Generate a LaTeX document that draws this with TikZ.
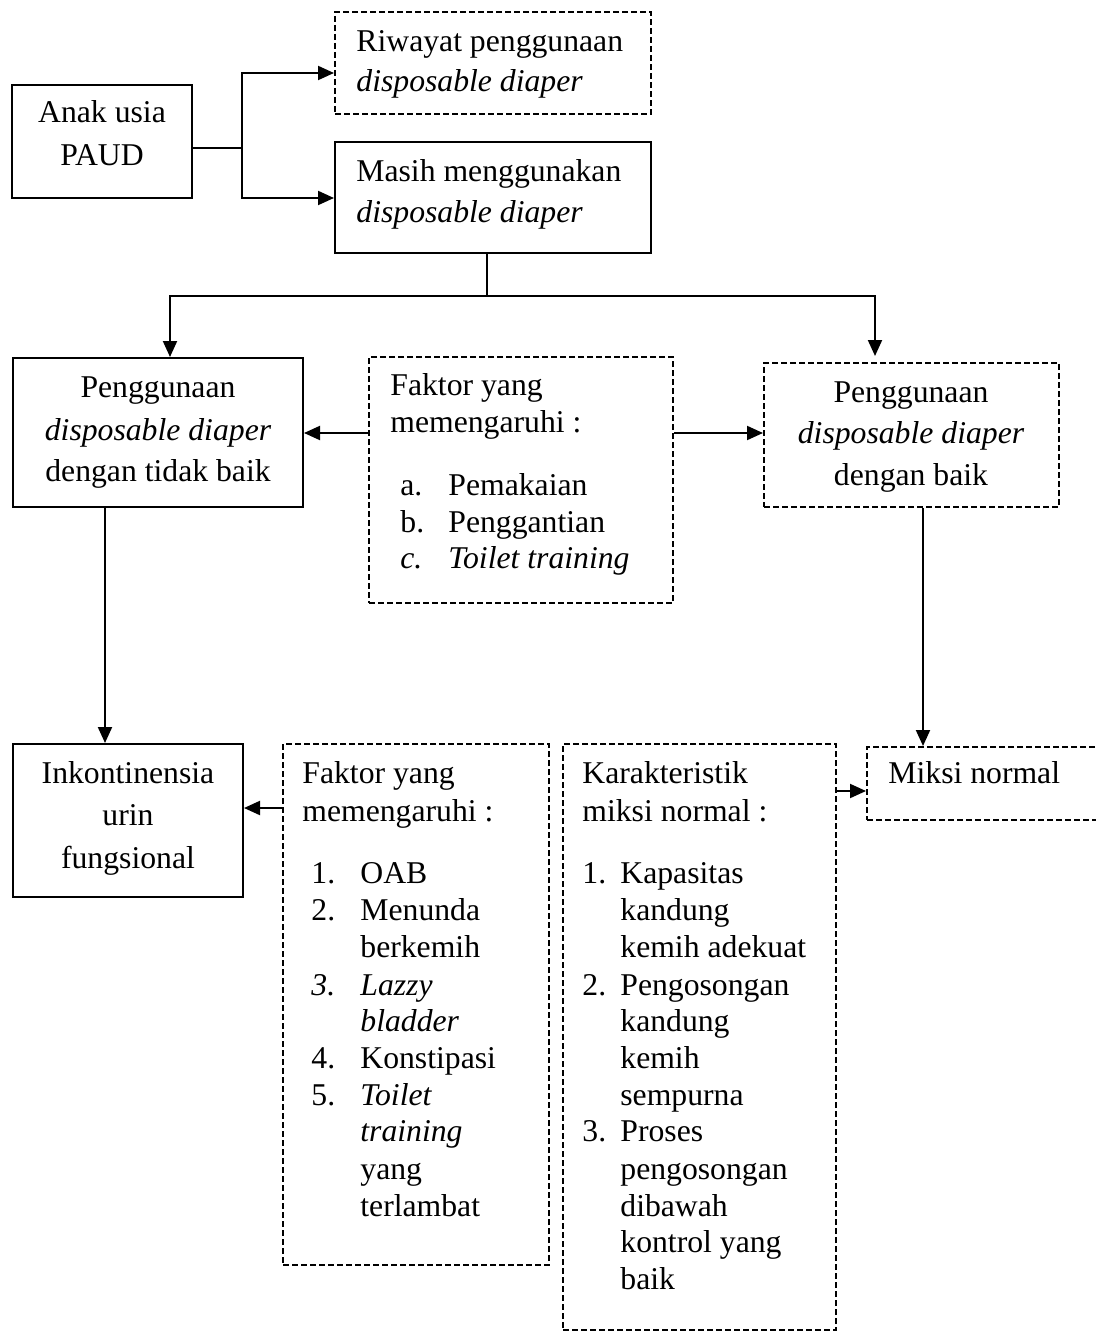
\documentclass[tikz,border=0pt]{standalone}
\usepackage{fontspec}
\setmainfont{Liberation Serif}
\usetikzlibrary{arrows.meta,fit}
\begin{document}
\begin{tikzpicture}[x=0.5pt,y=-0.5pt,
  solidbox/.style={draw, line width=1pt, inner sep=0pt},
  dashbox/.style={draw, line width=1pt, inner sep=0pt, dash pattern=on 3pt off 1.5pt},
  conn/.style={line width=1pt},
  arr/.style={conn, -{Triangle[length=8pt,width=7pt]}},
  txt/.style={anchor=base west, inner sep=0pt, font=\fontsize{15.85pt}{21pt}\selectfont},
  ctxt/.style={anchor=base, inner sep=0pt, font=\fontsize{15.85pt}{21pt}\selectfont}]
\useasboundingbox (0,0) rectangle (1096,1332);

% boxes
\node[solidbox, fit={(12,85)(192,198)}] (anak) {};
\node[dashbox, fit={(335,12)(651,114)}] (riwayat) {};
\node[solidbox, fit={(335,142)(651,253)}] (masih) {};
\node[solidbox, fit={(13,358)(303,507)}] (kiri) {};
\node[dashbox, fit={(369,357)(673,603)}] (faktora) {};
\node[dashbox, fit={(764,363)(1059,507)}] (kanan) {};
\node[solidbox, fit={(13,744)(243,897)}] (inkon) {};
\node[dashbox, fit={(283,744)(549,1265)}] (faktorb) {};
\node[dashbox, fit={(563,744)(836,1330)}] (karak) {};
\node[dashbox, fit={(867,747)(1120,820)}] (miksi) {};

% texts
\node[ctxt] (anak1) at (102,123) {Anak usia};
\node[ctxt] (anak2) at (102,166) {PAUD};
\node[txt] (riw1) at (356,52) {Riwayat penggunaan};
\node[txt] (riw2) at (356,92) {\itshape disposable diaper};
\node[txt] (mas1) at (356,182) {Masih menggunakan};
\node[txt] (mas2) at (356,222) {\itshape disposable diaper};
\node[ctxt] (kiri1) at (158,397) {Penggunaan};
\node[ctxt] (kiri2) at (158,440) {\itshape disposable diaper};
\node[ctxt] (kiri3) at (158,481) {dengan tidak baik};
\node[ctxt] (kan1) at (911,402) {Penggunaan};
\node[ctxt] (kan2) at (911,443) {\itshape disposable diaper};
\node[ctxt] (kan3) at (911,485) {dengan baik};
\node[txt] (fa1) at (390,395) {Faktor yang};
\node[txt] (fa2) at (390,432) {memengaruhi :};
\node[txt] (fa3) at (400,495) {a.};
\node[txt] (fa4) at (448,495) {Pemakaian};
\node[txt] (fa5) at (400,532) {b.};
\node[txt] (fa6) at (448,532) {Penggantian};
\node[txt] (fa7) at (400,568) {\itshape c.};
\node[txt] (fa8) at (448,568) {\itshape Toilet training};
\node[ctxt] (ink1) at (128,783) {Inkontinensia};
\node[ctxt] (ink2) at (128,825) {urin};
\node[ctxt] (ink3) at (128,868) {fungsional};
\node[txt] (fb1) at (302,783) {Faktor yang};
\node[txt] (fb2) at (302,821) {memengaruhi :};
\foreach \yy/\s [count=\i] in {883/1., 920/2., 995/{\itshape 3.}, 1068/4., 1105/5.}
  \node[txt, name=fbn\i] at (311,\yy) {\s};
\foreach \yy/\s [count=\i] in {883/OAB, 920/Menunda, 957/berkemih, 995/{\itshape Lazzy}, 1031/{\itshape bladder}, 1068/Konstipasi, 1105/{\itshape Toilet}, 1141/{\itshape training}, 1179/yang, 1216/terlambat}
  \node[txt, name=fbt\i] at (360,\yy) {\s};
\node[txt] (kr1) at (582,783) {Karakteristik};
\node[txt] (kr2) at (582,821) {miksi normal :};
\foreach \yy/\s [count=\i] in {883/1., 995/2., 1141/3.}
  \node[txt, name=krn\i] at (582,\yy) {\s};
\foreach \yy/\s [count=\i] in {883/Kapasitas, 920/kandung, 957/kemih adekuat, 995/Pengosongan, 1031/kandung, 1068/kemih, 1105/sempurna, 1141/Proses, 1179/pengosongan, 1216/dibawah, 1252/kontrol yang, 1289/baik}
  \node[txt, name=krt\i] at (620,\yy) {\s};
\node[txt] (mik1) at (888,783) {Miksi normal};

% connectors
\coordinate (j1) at (242,148);
\coordinate (j2) at (242,73);
\coordinate (j3) at (242,198);
\draw[conn] (anak.east |- j1) -- (j1);
\draw[arr] (j1) -- (j2) -- (riwayat.west |- j2);
\draw[arr] (j1) -- (j3) -- (masih.west |- j3);
\coordinate (j4) at (487,296);
\coordinate (j5) at (170,296);
\coordinate (j6) at (875,296);
\draw[conn] (masih.south -| j4) -- (j4);
\draw[arr] (j4) -- (j5) -- (kiri.north -| j5);
\draw[arr] (j4) -- (j6) -- ([yshift=3pt]kanan.north -| j6);
\coordinate (j7) at (0,433);
\draw[arr] (faktora.west |- j7) -- (kiri.east |- j7);
\draw[arr] (faktora.east |- j7) -- (kanan.west |- j7);
\coordinate (j8) at (105,0);
\draw[arr] (kiri.south -| j8) -- (inkon.north -| j8);
\coordinate (j9) at (923,0);
\draw[arr] (kanan.south -| j9) -- (miksi.north -| j9);
\coordinate (j10) at (0,808);
\draw[arr] (faktorb.west |- j10) -- (inkon.east |- j10);
\coordinate (j11) at (0,791);
\draw[arr] (karak.east |- j11) -- (miksi.west |- j11);
\end{tikzpicture}
\end{document}
